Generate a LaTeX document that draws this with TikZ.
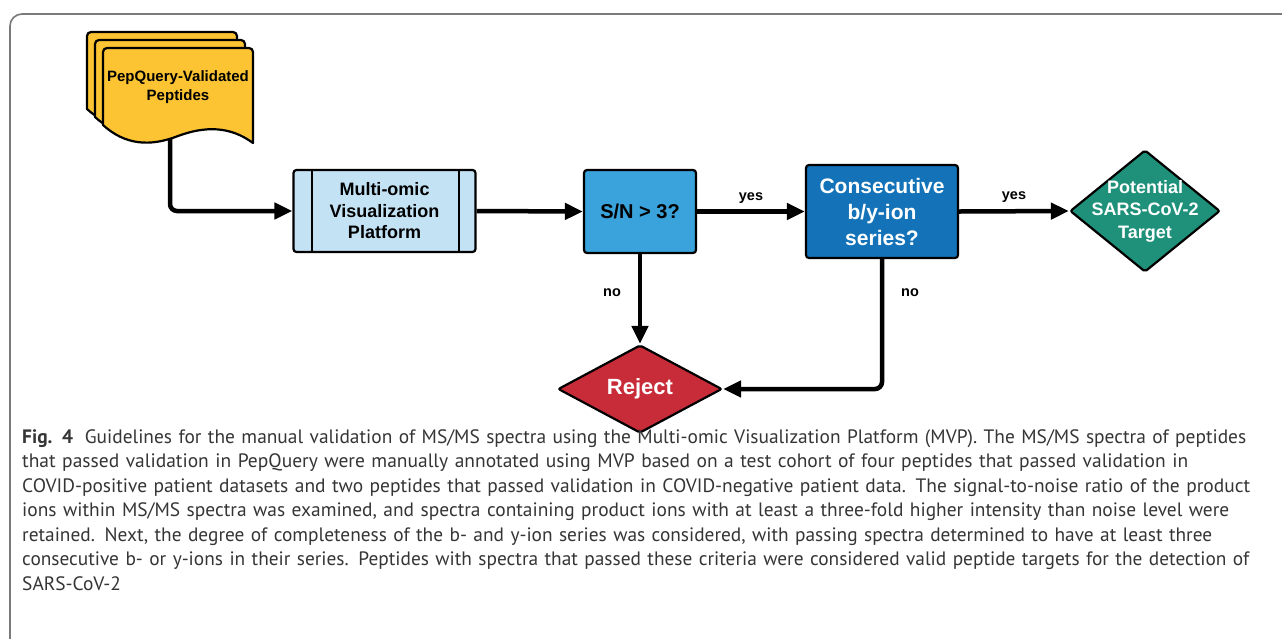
\documentclass[tikz,border=0pt]{standalone}
\usepackage{fontspec}
\usepackage{graphicx}
\setmainfont{Liberation Sans}
\newfontfamily\capfont{PT Sans}
\usetikzlibrary{shapes.geometric,arrows.meta}
\definecolor{docyellow}{HTML}{FCC433}
\definecolor{mvpblue}{HTML}{C3E3F5}
\definecolor{snblue}{HTML}{3AA3DC}
\definecolor{consblue}{HTML}{1473B8}
\definecolor{potgreen}{HTML}{1F917A}
\definecolor{rejred}{HTML}{C92C39}
\definecolor{framegray}{HTML}{7A7A7A}
\definecolor{captext}{HTML}{353535}
\newcommand\capline[2]{\resizebox{#1}{\height}{#2}}
\tikzset{
  boxline/.style={draw=black, line width=2.2pt},
  procbox/.style={boxline, rectangle, rounded corners=3pt, inner sep=0pt, align=center, font=\bfseries},
  decbox/.style={boxline, diamond, shape aspect=1, inner sep=0pt, rounded corners=2pt},
  conn/.style={line width=4.5pt, draw=black, -{Triangle[length=18pt,width=16pt]}, rounded corners=7pt},
  lbl/.style={font=\bfseries\fontsize{14.5}{16}\selectfont, inner sep=0pt},
  docsheet/.style={boxline, fill=docyellow, line join=round},
}
\begin{document}
\begin{tikzpicture}[x=1pt,y=-1pt]
\useasboundingbox (0,0) rectangle (1282,638);
\fill[white] (0,0) rectangle (1282,638);
% frame
\draw[framegray, line width=1.6pt, rounded corners=12pt] (10,660) -- (10,14) -- (1300,14);

% document stack
\foreach \dx/\dy in {-16/-16,-8/-8,0/0}{
  \begin{scope}[shift={(\dx,\dy)}]
  \draw[docsheet] (103,125) [rounded corners=4pt] -- (103,48) -- (253,48) [sharp corners] -- (253,143)
     .. controls (230,126) and (205,126) .. (178,136)
     .. controls (150,147) and (125,145) .. (103,125) -- cycle;
  \end{scope}
}
\node[font=\bfseries\fontsize{15}{19}\selectfont, align=center, inner sep=0pt] (doc) at (178,87.5) {PepQuery-Validated\\Peptides};
\coordinate (docout) at (170,139);

% process boxes
\node[procbox, fill=mvpblue, minimum width=182pt, minimum height=82pt, font=\bfseries\fontsize{18}{21.5}\selectfont] (mvp) at (384.5,211) {Multi-omic\\Visualization\\Platform};
\draw[line width=2pt] ([xshift=20pt]mvp.north west) -- ([xshift=20pt]mvp.south west);
\draw[line width=2pt] ([xshift=-18pt]mvp.north east) -- ([xshift=-18pt]mvp.south east);

\node[procbox, fill=snblue, minimum width=112pt, minimum height=83pt, font=\bfseries\fontsize{20}{24}\selectfont] (sn) at (640,211.5) {S/N > 3?};

\node[procbox, fill=consblue, text=white, minimum width=152pt, minimum height=93pt, font=\bfseries\fontsize{21}{26}\selectfont] (cons) at (882,211.5) {Consecutive\\b/y-ion\\series?};

\node[decbox, fill=potgreen, minimum width=150pt, minimum height=122pt,
  label={[text=white, font=\bfseries\fontsize{18}{22.5}\selectfont, align=center]center:Potential\\SARS-CoV-2\\Target}] (pot) at (1145,211) {};

\node[decbox, fill=rejred, minimum width=164pt, minimum height=88pt,
  label={[text=white, font=\bfseries\fontsize{22}{26}\selectfont]center:Reject}] (rej) at (640,389) {};

% connectors
\draw[conn] (docout) |- (mvp.west);
\draw[conn] (mvp.east) -- (sn.west);
\draw[conn] (sn.east) -- node[lbl, above=6pt] (yes1) {yes} (cons.west);
\draw[conn] (cons.east) -- node[lbl, above=6pt] (yes2) {yes} (pot.west);
\draw[conn] (sn.south) -- (rej.north);
\draw[conn] (cons.south) |- (rej.east);
\node[lbl] (no1) at (612,293) {no};
\node[lbl] (no2) at (910,293) {no};

% caption
\node[anchor=north west, inner sep=0pt, text width=1260pt, align=left, text=captext, font=\capfont\fontsize{19.4}{24.5}\selectfont] (cap) at (22,429)
{\capline{1224pt}{\textbf{Fig. 4}\hspace{0.6em}Guidelines for the manual validation of MS/MS spectra using the Multi-omic Visualization Platform (MVP). The MS/MS spectra of peptides}\\
\capline{1166pt}{that passed validation in PepQuery were manually annotated using MVP based on a test cohort of four peptides that passed validation in}\\
\capline{1228pt}{COVID-positive patient datasets and two peptides that passed validation in COVID-negative patient data. The signal-to-noise ratio of the product}\\
\capline{1207pt}{ions within MS/MS spectra was examined, and spectra containing product ions with at least a three-fold higher intensity than noise level were}\\
\capline{1190pt}{retained. Next, the degree of completeness of the b- and y-ion series was considered, with passing spectra determined to have at least three}\\
\capline{1227pt}{consecutive b- or y-ions in their series. Peptides with spectra that passed these criteria were considered valid peptide targets for the detection of}\\
SARS-CoV-2};
\end{tikzpicture}
\end{document}
